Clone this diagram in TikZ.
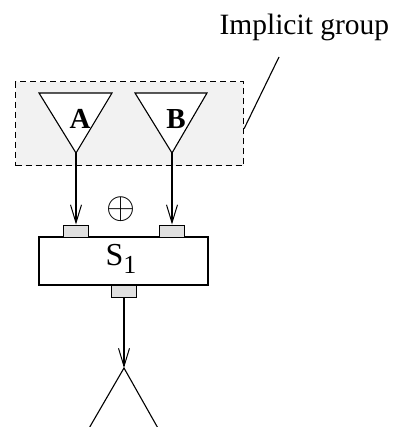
\documentclass[tikz,border=0pt]{standalone}
\usepackage{fontspec}
\setmainfont{Liberation Serif}
\usetikzlibrary{arrows.meta}
\definecolor{groupfill}{HTML}{F2F2F2}
\definecolor{portfill}{HTML}{E0E0E0}
\begin{document}
\begin{tikzpicture}[x=1pt,y=-1pt,
  line width=1.1pt,
  port/.style={draw, fill=portfill, minimum width=25pt, minimum height=12pt, inner sep=0pt, line width=1pt},
  conn/.style={-{Straight Barb[length=18pt,width=11pt,line width=1pt]}},
  tri/.style={draw, fill=white, line join=miter},
  lbl/.style={font=\fontsize{29}{31}\selectfont\bfseries, inner sep=0pt}]
\useasboundingbox (0,0) rectangle (402,427);
% implicit group
\node[draw, dashed, dash pattern=on 6pt off 4pt, fill=groupfill, minimum width=228pt, minimum height=84pt, inner sep=0pt, anchor=north west] (grp) at (15,81) {};
\node[anchor=base west, inner sep=0pt, font=\fontsize{29.5}{32}\selectfont] (title) at (219,35) {Implicit group};
\path (grp.north east) -- (grp.south east) coordinate[pos=0.56] (gattach);
\coordinate (lead) at (279,57);
\draw (gattach) -- (lead);
% triangles
\coordinate (aapex) at (76,153);
\coordinate (bapex) at (172,153);
\draw[tri] (39,93) -- (112,93) -- (aapex) -- cycle;
\draw[tri] (135,93) -- (207,93) -- (bapex) -- cycle;
\node[lbl] (la) at (80,119) {A};
\node[lbl] (lb) at (176,119) {B};
% S1
\node[draw, minimum width=169pt, minimum height=48pt, inner sep=0pt] (s1) at (123.5,261) {};
\node[anchor=base, inner sep=0pt, font=\fontsize{32}{34}\selectfont] (s1lbl) at (121,265) {S\raisebox{-8pt}{\fontsize{26}{28}\selectfont 1}};
\node[port] (pa) at (75.5,231) {};
\node[port] (pb) at (171.5,231) {};
\node[port] (po) at (124,291) {};
\node[inner sep=0pt] (plus) at (121,209) {\resizebox{29pt}{!}{$\oplus$}};
% connectors
\draw[conn] (aapex) -- (aapex |- pa.north);
\draw[conn] (bapex) -- (bapex |- pb.north);
\coordinate (capex) at (124,368);
\draw[conn] (po.south) -- (capex);
\coordinate (cl) at (88,430);
\coordinate (cr) at (159,430);
\draw (cl) -- (capex) -- (cr);
\end{tikzpicture}
\end{document}
